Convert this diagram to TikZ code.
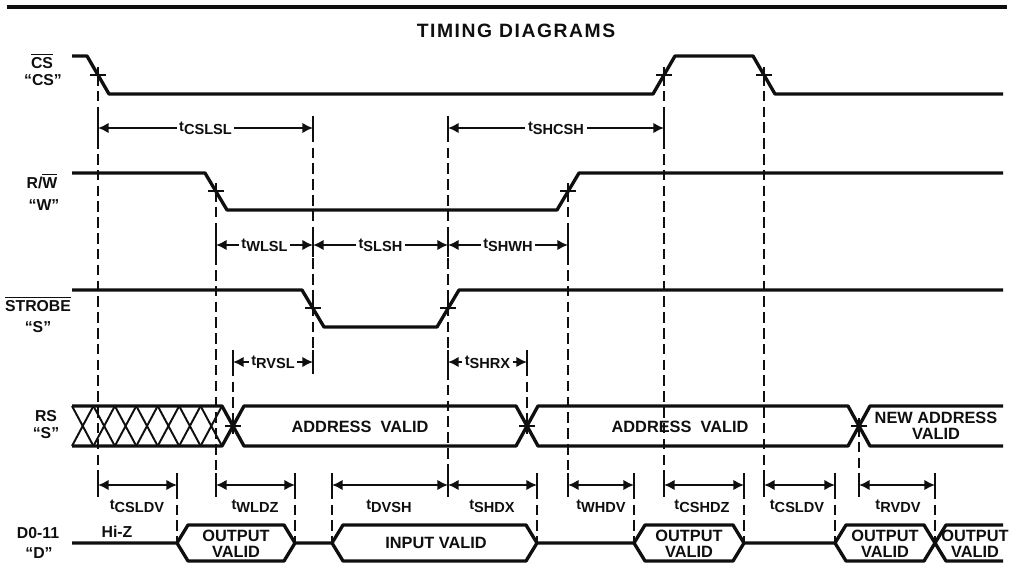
\documentclass[tikz,border=0pt]{standalone}
\usepackage{fontspec}
\setmainfont{Liberation Sans}
\usetikzlibrary{arrows.meta}
\definecolor{inkblack}{RGB}{15, 15, 15}
\newcommand{\tlab}[1]{\raisebox{1.8pt}{t}#1}
\newcommand{\ovl}[1]{$\overline{\mbox{#1}}$}

\begin{document}
\begin{tikzpicture}[x=0.02cm, y=-0.02cm, >={Latex[length=6pt, width=6pt]}, inkblack,
  wave/.style={line width=1.9pt, line join=round},
  hatch/.style={line width=1.1pt},
  guide/.style={line width=1.1pt, dash pattern=on 6pt off 3pt},
  span/.style={line width=1.2pt, <->},
  endtick/.style={line width=1.2pt},
  crossmark/.style={line width=1.2pt},
  siglabel/.style={font=\fontsize{9}{9}\selectfont\bfseries, inner sep=0pt},
  buslabel/.style={font=\fontsize{9.3}{9.3}\selectfont\bfseries, align=center, inner sep=0pt},
  tlabel/.style={font=\fontsize{8.3}{8.3}\selectfont\bfseries, inner sep=1.5pt}]

  \useasboundingbox (0,0) rectangle (1017,563);

  % ---------- Header ----------
  \draw[line width=2.6pt] (7,7) -- (1007,7);
  \node[font=\fontsize{11}{11}\selectfont\bfseries\addfontfeatures{LetterSpace=8}] (title) at (516,31) {TIMING DIAGRAMS};

  % ---------- Signal names ----------
  \node[siglabel] (csname) at (42,61) {\ovl{CS}};
  \node[siglabel] (csquote) at (43,80) {``CS''};
  \node[siglabel] (rwname) at (42,181) {R/\ovl{W}};
  \node[siglabel] (rwquote) at (44,205) {``W''};
  \node[siglabel] (stname) at (38,304) {\ovl{STROBE}};
  \node[siglabel] (stquote) at (38,327) {``S''};
  \node[siglabel] (rsname) at (46,416) {RS};
  \node[siglabel] (rsquote) at (46,433) {``S''};
  \node[siglabel] (dname) at (38,533) {D0-11};
  \node[siglabel] (dquote) at (39,553) {``D''};

  % ---------- CS ----------
  \draw[wave] (72,56) -- (87,56) -- (109,94) -- (653,94) -- (675,56) -- (753,56) -- (775,94) -- (1003,94);
  \draw[crossmark] (90,75) -- (106,75) (98,67) -- (98,83)
                   (656,75) -- (672,75) (664,67) -- (664,83)
                   (756,75) -- (772,75) (764,67) -- (764,83);

  % ---------- R/W ----------
  \draw[wave] (72,173) -- (205,173) -- (227,210) -- (557,210) -- (579,173) -- (1003,173);
  \draw[crossmark] (208,191) -- (224,191) (216,183) -- (216,199)
                   (560,191) -- (576,191) (568,183) -- (568,199);

  % ---------- STROBE ----------
  \draw[wave] (72,290) -- (302,290) -- (324,327) -- (437,327) -- (459,290) -- (1003,290);
  \draw[crossmark] (305,308) -- (321,308) (313,300) -- (313,316)
                   (440,308) -- (456,308) (448,300) -- (448,316);

  % ---------- RS ----------
  \draw[wave] (72,406) -- (222,406) -- (233,426) -- (222,446) -- (72,446);
  \foreach \i in {0,...,6}
    \draw[hatch] ({72+21.43*\i},406) -- ({72+21.43*(\i+1)},446)
                 ({72+21.43*\i},446) -- ({72+21.43*(\i+1)},406);
  \draw[wave] (233,426) -- (244,406) -- (516,406) -- (527,426) -- (516,446) -- (244,446) -- cycle;
  \draw[wave] (527,426) -- (538,406) -- (848,406) -- (859,426) -- (848,446) -- (538,446) -- cycle;
  \draw[wave] (1003,406) -- (870,406) -- (859,426) -- (870,446) -- (1003,446);
  \draw[crossmark] (225,426) -- (241,426) (233,418) -- (233,434)
                   (519,426) -- (535,426) (527,418) -- (527,434)
                   (851,426) -- (867,426) (859,418) -- (859,434);
  \node[buslabel] (addr1) at (360,427) {ADDRESS\ \ VALID};
  \node[buslabel] (addr2) at (680,427) {ADDRESS\ \ VALID};
  \node[buslabel] (addr3) at (936,426) {NEW ADDRESS\\VALID};

  % ---------- D0-11 ----------
  \draw[wave] (72,543) -- (177,543) -- (188,525) -- (284,525) -- (295,543) -- (332,543) -- (343,525)
    -- (526,525) -- (537,543) -- (634,543) -- (645,525) -- (733,525) -- (744,543) -- (835,543)
    -- (846,525) -- (924,525) -- (935,543) -- (946,561) -- (1003,561);
  \draw[wave] (177,543) -- (188,561) -- (284,561) -- (295,543)
              (332,543) -- (343,561) -- (526,561) -- (537,543)
              (634,543) -- (645,561) -- (733,561) -- (744,543)
              (835,543) -- (846,561) -- (924,561) -- (935,543) -- (946,525) -- (1003,525);
  \node[siglabel] (hiz) at (117,532) {Hi-Z};
  \node[buslabel] (out1) at (236,544) {OUTPUT\\VALID};
  \node[buslabel] (inval) at (436,543) {INPUT VALID};
  \node[buslabel] (out2) at (689,544) {OUTPUT\\VALID};
  \node[buslabel] (out3) at (885,544) {OUTPUT\\VALID};
  \node[buslabel] (out4) at (975,544) {OUTPUT\\VALID};

  % ---------- Guide lines ----------
  \draw[guide] (98,75) -- (98,497)   (216,191) -- (216,497)  (313,116) -- (313,374)
               (448,116) -- (448,497) (568,191) -- (568,497) (664,75) -- (664,497)
               (764,75) -- (764,497)  (233,350) -- (233,426) (527,350) -- (527,426)
               (859,426) -- (859,497);
  \draw[guide] (177,473) -- (177,543) (295,473) -- (295,543) (332,473) -- (332,543)
               (537,473) -- (537,543) (634,473) -- (634,543) (744,473) -- (744,543)
               (835,473) -- (835,543) (935,473) -- (935,543);

  % ---------- End ticks ----------
  \draw[endtick] (98,116) -- (98,140) (313,116) -- (313,140) (448,116) -- (448,140) (664,116) -- (664,140);
  \draw[endtick] (216,233) -- (216,257) (313,233) -- (313,257) (448,233) -- (448,257) (568,233) -- (568,257);
  \draw[endtick] (233,350) -- (233,374) (313,350) -- (313,374) (448,350) -- (448,374) (527,350) -- (527,374);
  \draw[endtick] (98,473) -- (98,497) (177,473) -- (177,497) (216,473) -- (216,497) (295,473) -- (295,497)
                 (332,473) -- (332,497) (448,473) -- (448,497) (537,473) -- (537,497) (568,473) -- (568,497)
                 (634,473) -- (634,497) (664,473) -- (664,497) (744,473) -- (744,497) (764,473) -- (764,497)
                 (835,473) -- (835,497) (859,473) -- (859,497) (935,473) -- (935,497);

  % ---------- Timing spans ----------
  \draw[span] (98,128) -- node[tlabel, fill=white] (tcslsl) {\tlab{CSLSL}} (313,128);
  \draw[span] (448,128) -- node[tlabel, fill=white] (tshcsh) {\tlab{SHCSH}} (664,128);
  \draw[span] (216,245) -- node[tlabel, fill=white] (twlsl) {\tlab{WLSL}} (313,245);
  \draw[span] (313,245) -- node[tlabel, fill=white] (tslsh) {\tlab{SLSH}} (448,245);
  \draw[span] (448,245) -- node[tlabel, fill=white] (tshwh) {\tlab{SHWH}} (568,245);
  \draw[span] (233,362) -- node[tlabel, fill=white] (trvsl) {\tlab{RVSL}} (313,362);
  \draw[span] (448,362) -- node[tlabel, fill=white] (tshrx) {\tlab{SHRX}} (527,362);

  \draw[span] (98,485) -- (177,485);
  \draw[span] (216,485) -- (295,485);
  \draw[span] (332,485) -- (448,485);
  \draw[span] (448,485) -- (537,485);
  \draw[span] (568,485) -- (634,485);
  \draw[span] (664,485) -- (744,485);
  \draw[span] (764,485) -- (835,485);
  \draw[span] (859,485) -- (935,485);
  \node[tlabel] (tcsldv) at (137,506) {\tlab{CSLDV}};
  \node[tlabel] (twldz) at (255,506) {\tlab{WLDZ}};
  \node[tlabel] (tdvsh) at (389,506) {\tlab{DVSH}};
  \node[tlabel] (tshdx) at (492,506) {\tlab{SHDX}};
  \node[tlabel] (twhdv) at (601,506) {\tlab{WHDV}};
  \node[tlabel] (tcshdz) at (702,506) {\tlab{CSHDZ}};
  \node[tlabel] (tcsldvb) at (797,506) {\tlab{CSLDV}};
  \node[tlabel] (trvdv) at (898,506) {\tlab{RVDV}};

\end{tikzpicture}
\end{document}
